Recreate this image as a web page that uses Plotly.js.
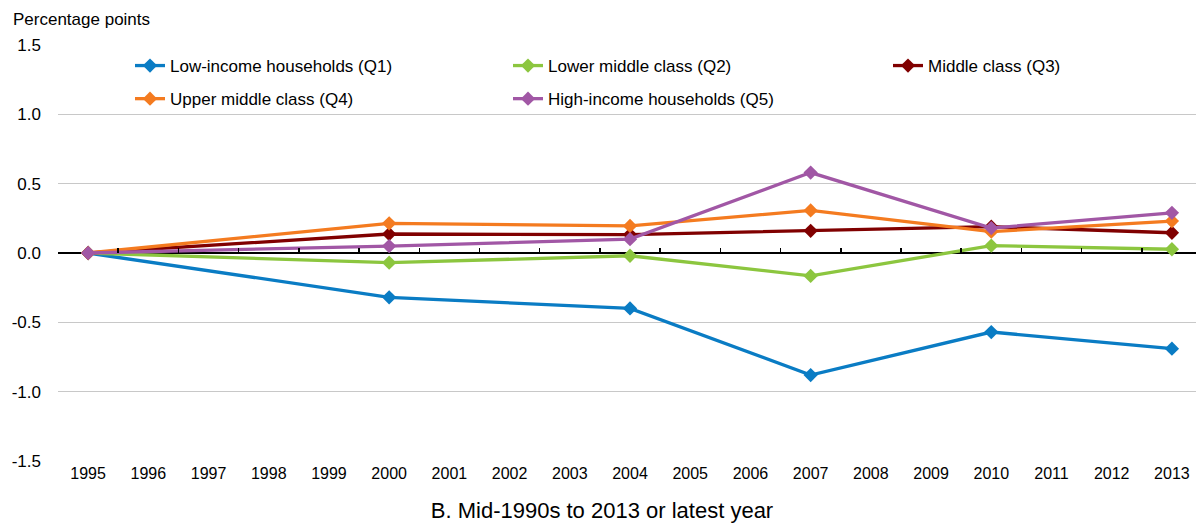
<!DOCTYPE html>
<html>
<head>
<meta charset="utf-8">
<script src="https://cdn.plot.ly/plotly-3.0.1.min.js"></script>
<style>html,body{margin:0;padding:0;background:#fff}#chart{width:1196px;height:526px}</style>
</head>
<body>
<div id="chart"></div>
<script>
const years = [1995, 2000, 2004, 2007, 2010, 2013];
const yearTicks = [1995,1996,1997,1998,1999,2000,2001,2002,2003,2004,2005,2006,2007,2008,2009,2010,2011,2012,2013];
const seriesNames = ["Low-income households (Q1)", "Lower middle class (Q2)", "Middle class (Q3)", "Upper middle class (Q4)", "High-income households (Q5)"];
const q1 = [0, -0.32, -0.40, -0.88, -0.57, -0.69];
const q2 = [0, -0.07, -0.02, -0.165, 0.053, 0.027];
const q3 = [0, 0.137, 0.133, 0.16, 0.19, 0.146];
const q4 = [0, 0.214, 0.195, 0.307, 0.154, 0.23];
const q5 = [0, 0.05, 0.10, 0.58, 0.18, 0.29];
const yTickVals = [-1.5, -1.0, -0.5, 0, 0.5, 1.0, 1.5];
const yTickText = ["-1.5", "-1.0", "-0.5", "0.0", "0.5", "1.0", "1.5"];

const colors = ["#0a7cc4", "#8cc63f", "#800000", "#f47b20", "#a157a5"];
const legendOf = ["legend", "legend2", "legend3", "legend", "legend2"];
const allSeries = [q1, q2, q3, q4, q5];
const traces = allSeries.map((s, i) => ({
  type: "scatter", mode: "lines+markers",
  x: years, y: s, name: seriesNames[i],
  legend: legendOf[i], legendgroup: "g" + i,
  line: {color: colors[i], width: 3.3},
  marker: {symbol: "diamond", size: 11, color: colors[i]},
  hoverinfo: "skip"
}));
// between-category tick marks drawn by a second axis sitting on the zero line
const midTicks = yearTicks.slice(0, -1).map(v => v + 0.5);
traces.push({type: "scatter", mode: "none", x: [yearTicks[0]], y: [yTickVals[3]], xaxis: "x2", showlegend: false, hoverinfo: "skip"});

const FF = "Liberation Sans, Arial, sans-serif";
const txt = (size) => ({family: FF, size: size, color: "#000"});
const PW = 1138, PH = 416;
const legendBase = {
  orientation: "v", xref: "paper", yref: "paper", y: 1.0 - 3 / PH, yanchor: "top", xanchor: "left",
  bgcolor: "rgba(0,0,0,0)", font: txt(17), tracegroupgap: 8, itemclick: false
};
const layout = {
  width: 1196, height: 526,
  margin: {l: 58, r: 0, t: 45, b: 65, autoexpand: false},
  paper_bgcolor: "#fff", plot_bgcolor: "#fff",
  font: txt(17),
  showlegend: true,
  legend: Object.assign({}, legendBase, {x: (130 - 58) / PW}),
  legend2: Object.assign({}, legendBase, {x: (508 - 58) / PW}),
  legend3: Object.assign({}, legendBase, {x: (888 - 58) / PW}),
  title: {
    text: "B. Mid-1990s to 2013 or latest year",
    font: txt(22),
    xref: "container", x: 602 / 1196, xanchor: "center",
    yref: "container", y: 1 - 510 / 526, yanchor: "middle"
  },
  xaxis: {
    range: [1994.5, 2013.4], tickvals: yearTicks, ticktext: yearTicks.map(String),
    ticks: "", showgrid: false, zeroline: false, showline: false, tickangle: 0,
    tickfont: txt(16), ticklabelstandoff: 1, fixedrange: true
  },
  xaxis2: {
    overlaying: "x", anchor: "free", position: 0.5, side: "bottom",
    range: [1994.5, 2013.4], tickvals: midTicks, ticks: "inside", ticklen: 5, tickwidth: 1.5, tickcolor: "#000",
    showticklabels: false, showgrid: false, zeroline: false, showline: false
  },
  yaxis: {
    range: [-1.5, 1.5], tickvals: yTickVals, ticktext: yTickText,
    showgrid: true, gridcolor: "#c8c8c8", gridwidth: 1.5,
    zeroline: true, zerolinecolor: "#000", zerolinewidth: 1.5,
    ticks: "", showline: false, ticklabelstandoff: 16,
    tickfont: txt(17), fixedrange: true
  },
  annotations: [{
    text: "Percentage points", xref: "paper", yref: "paper",
    x: -47 / PW, y: 1, xanchor: "left", yanchor: "bottom", yshift: 14,
    showarrow: false, font: txt(17)
  }]
};
Plotly.newPlot("chart", traces, layout, {displayModeBar: false, staticPlot: true});
</script>
</body>
</html>
